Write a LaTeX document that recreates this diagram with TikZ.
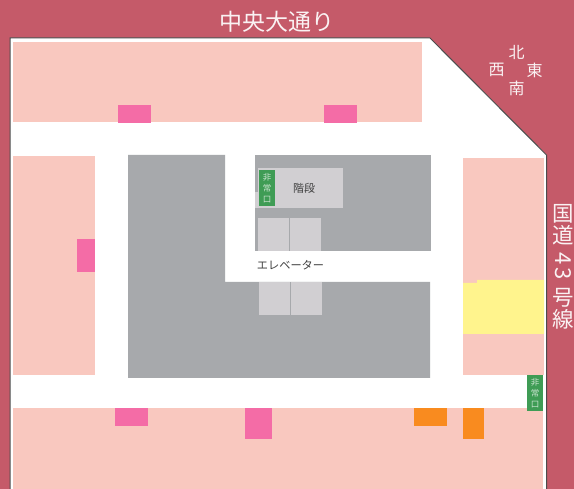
\documentclass[tikz,border=0pt]{standalone}
\usepackage{graphicx}
\usepackage{fontspec}
\newfontfamily\jp{Noto Sans CJK JP}
\definecolor{roadred}{HTML}{C55A69}
\definecolor{shop}{HTML}{F9C8BF}
\definecolor{magentashop}{HTML}{F46CA6}
\definecolor{core}{HTML}{A7A9AC}
\definecolor{lift}{HTML}{D1CFD2}
\definecolor{orangeshop}{HTML}{F98B1F}
\definecolor{yellowshop}{HTML}{FFF48D}
\definecolor{exitgreen}{HTML}{3F9C55}
\tikzset{
  x=1pt,y=-1pt,
  lbl/.style={font=\jp\fontsize{#1}{#1}\selectfont,inner sep=0pt},
  roadlbl/.style={lbl=#1,text=white!92!roadred},
  exitlbl/.style={font=\jp\fontsize{8.5}{11}\selectfont,text=white!72!exitgreen,align=center,inner sep=0pt},
  outline/.style={draw=black!70,line width=1pt,fill=white},
}
\begin{document}
\begin{tikzpicture}
\useasboundingbox (0,0) rectangle (574,489);
\fill[roadred] (0,0) rectangle (574,489);
\draw[outline] (10,489) -- (10,38) -- (430,38) -- (546.5,155) -- (546.5,489);
% shops
\fill[shop] (13,42) rectangle (422,122);
\fill[shop] (13,156) rectangle (95,375);
\fill[shop] (463,158) rectangle (544,375);
\fill[shop] (13,408) rectangle (543,489);
\fill[yellowshop] (463,283) -- (477,283) -- (477,280) -- (544,280) -- (544,334) -- (463,334) -- cycle;
\fill[magentashop] (118,105) rectangle (151,123);
\fill[magentashop] (324,105) rectangle (357,123);
\fill[magentashop] (77,239) rectangle (95,272);
\fill[magentashop] (115,408) rectangle (148,426);
\fill[magentashop] (245,408) rectangle (272,439);
\fill[orangeshop] (414,408) rectangle (447,426);
\fill[orangeshop] (463,408) rectangle (484,439);
% core
\fill[core] (128,155) -- (225,155) -- (225,282) -- (430,282) -- (430,378) -- (128,378) -- cycle;
\fill[core] (255,155) rectangle (431,251);
\fill[lift] (258,168) rectangle (343,208);
\fill[lift] (255,192) rectangle (258,208);
\fill[lift] (258,218) rectangle (289,251);
\fill[lift] (290,218) rectangle (321,251);
\fill[lift] (259,282) rectangle (290,315);
\fill[lift] (291,282) rectangle (322,315);
% exits
\fill[exitgreen] (259,170) rectangle (275,206);
\fill[exitgreen] (527,375) rectangle (543,411);
\node[exitlbl] (exitA) at (267,188) {非\\常\\口};
\node[exitlbl] (exitB) at (535,393) {非\\常\\口};
% labels
\node[roadlbl=23] (avenue) at (277,22) {中央大通り};
\node[font=\jp\fontsize{21.5}{22}\selectfont,text=white!92!roadred,align=center,inner sep=0pt] (route) at (563.5,266.5)
  {国\\道\\[15pt]\raisebox{27.4pt}[0pt][0pt]{\rotatebox{-90}{\fontsize{22}{22}\selectfont 4\hspace{3pt}3}}\\[3pt]号\\線};
\node[roadlbl=16] (north) at (516.5,52) {北};
\node[roadlbl=16] (west) at (496.5,70) {西};
\node[roadlbl=16] (east) at (534.5,70) {東};
\node[roadlbl=16] (south) at (516.5,88) {南};
\node[lbl=11,text=black!75] (stairs) at (304,188.5) {階段};
\node[lbl=11.2,text=black!75] (elevator) at (290.5,265) {エレベーター};
\end{tikzpicture}
\end{document}
